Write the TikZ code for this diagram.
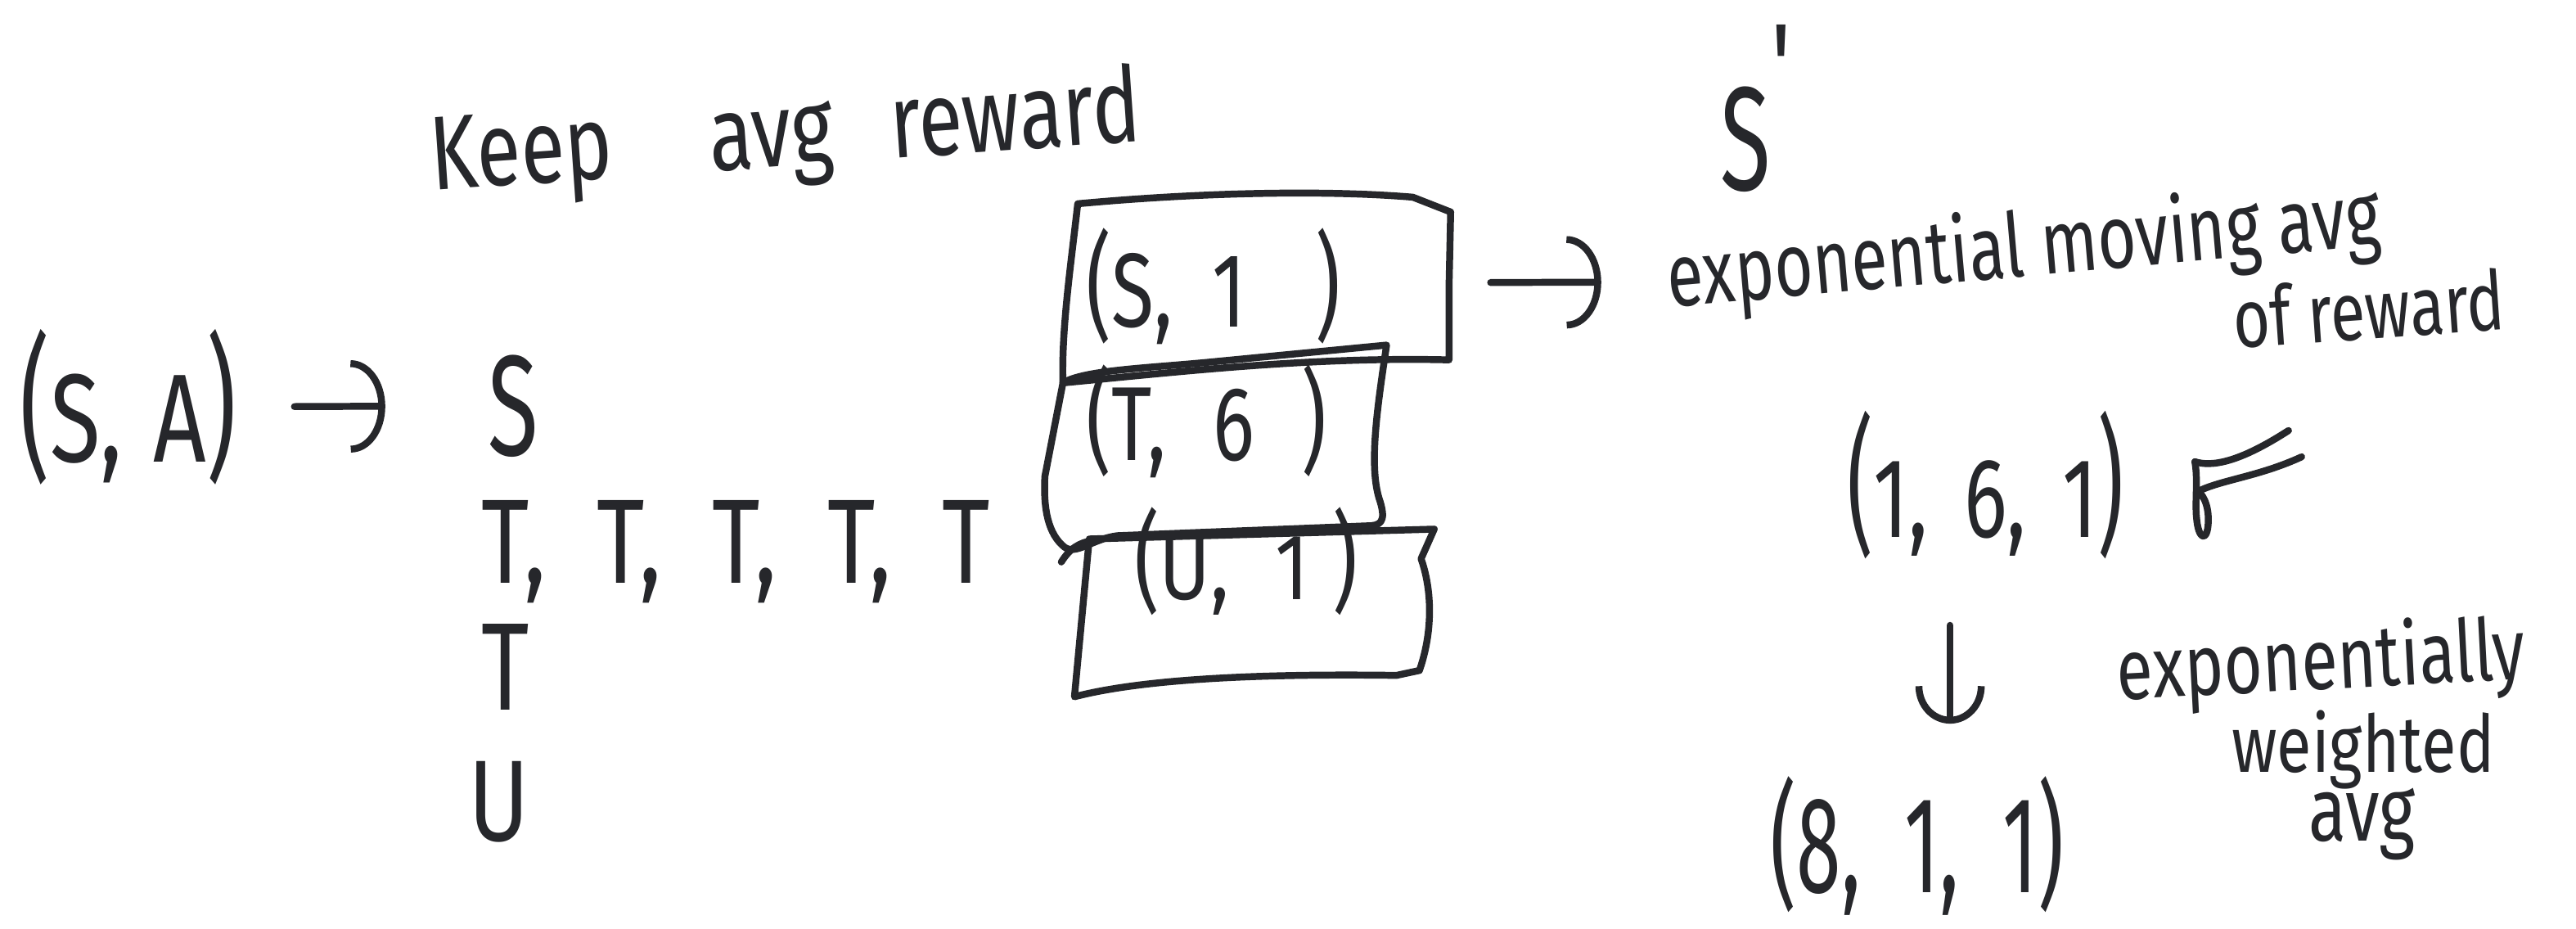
\documentclass[tikz,border=0pt]{standalone}
\usepackage{fontspec}
\setmainfont{Fira Sans}
\usepackage{graphicx}
\usetikzlibrary{arrows.meta}
\definecolor{ink}{HTML}{26272B}
% font size helper, vertical stretch, and tuples with tall brackets
\newcommand\hwsize[1]{\fontsize{#1}{#1}\selectfont}
\newcommand\tallt[2]{\scalebox{1}[#1]{#2}}
\newcommand\tup[3]{\tallt{#1}{(}\tallt{#2}{#3}\tallt{#1}{)}}
\tikzset{
  inkline/.style={draw=ink, line width=2.4pt, line cap=round, line join=round},
  hw/.style={text=ink, inner sep=0pt},
  arr/.style={inkline, -{Arc Barb[length=12pt,width=32pt]}},
  downarr/.style={inkline, -{Arc Barb[length=13pt,width=24pt]}},
  boxarea/.style={inner sep=0pt, minimum width=#1},
}
\begin{document}
\begin{tikzpicture}[x=0.02cm, y=-0.02cm]
\useasboundingbox (0,0) rectangle (1568,565);

% heading
\node[hw, font=\hwsize{28}, rotate=4, anchor=base west] (keep) at (263,116)
  {\tallt{1.3}{Keep\hspace{1.2em}avg\hspace{0.7em}reward}};

% left column: state-action pair and the states seen
\node[hw, font=\hwsize{32}, anchor=base west] (sa) at (12,281)
  {\tup{1.7}{1.36}{S,\,\,A}};
\node[hw, font=\hwsize{32}, anchor=base west] (S) at (297,277) {\tallt{1.55}{S}};
\node[hw, font=\hwsize{32}, anchor=base west] (tt) at (293,355)
  {\tallt{1.3}{T,\hspace{0.55em}T,\hspace{0.55em}T,\hspace{0.55em}T,\hspace{0.55em}T}};
\node[hw, font=\hwsize{32}, anchor=base west] (T) at (293,432) {\tallt{1.35}{T}};
\node[hw, font=\hwsize{32}, anchor=base west] (U) at (285,512) {\tallt{1.25}{U}};
\draw[arr, shorten <=0.7cm, shorten >=1.25cm] (sa.east) -- (S.west);

% stacked count boxes
\draw[inkline] (656,124) .. controls (720,118) and (800,115) .. (860,120) -- (883,129)
  -- (882,175) -- (882,219) .. controls (800,217) and (720,226) .. (647,233)
  .. controls (646,200) and (652,160) .. cycle;
\draw[inkline] (647,233) .. controls (660,225) and (700,224) .. (740,220) -- (844,210)
  .. controls (838,250) and (833,285) .. (840,305) .. controls (844,318) and (840,320) .. (832,320)
  -- (680,326) .. controls (665,328) and (655,338) .. (648,333)
  .. controls (638,325) and (635,310) .. (636,290) -- cycle;
\draw[inkline] (663,328) -- (873,322) -- (865,340) .. controls (872,360) and (872,385) .. (864,408)
  -- (850,411) .. controls (780,410) and (700,412) .. (654,424) -- cycle;
\draw[inkline] (646,342) .. controls (651,334) and (657,330) .. (665,329);

\node[boxarea=4.56cm, minimum height=2cm] (box1) at (769,172) {};
\node[hw, font=\hwsize{27}, anchor=base west] (s1) at (661,199)
  {\tup{1.5}{1.35}{S,\hspace{0.5em}1\hspace{0.9em}}};
\node[hw, font=\hwsize{27}, anchor=base west] (t6) at (661,280)
  {\tup{1.45}{1.35}{T,\hspace{0.6em}6\hspace{0.6em}}};
\node[hw, font=\hwsize{27}, anchor=base west] (u1) at (690,365)
  {\tup{1.4}{1.2}{U,\hspace{0.6em}1\hspace{0.3em}}};

% right side notes
\node[hw, font=\hwsize{32}, anchor=base west] (sp) at (1047,116)
  {\tallt{1.6}{S}\raisebox{0.9em}{\tallt{1.3}{\textquotesingle}}};
\node[hw, font=\hwsize{23}, rotate=5, anchor=base west] (exp) at (1016,187)
  {\tallt{1.35}{exponential moving avg}};
\node[hw, font=\hwsize{22}, rotate=4, anchor=base west] (ofr) at (1360,212)
  {\tallt{1.3}{of reward}};
\draw[arr, shorten <=0.48cm, shorten >=0.8cm] (box1.east) -- (exp.west);

% running averages
\node[hw, font=\hwsize{28}, anchor=base west] (v1) at (1124,327)
  {\tup{1.85}{1.4}{1,\hspace{0.45em}6,\hspace{0.45em}1}};
\node[hw, font=\hwsize{28}] (v2) at (1167,515) {\tallt{1.7}{(8,\; 1,\; 1)}};
\draw[downarr, shorten <=0.8cm, shorten >=0.64cm]
  ([xshift=0.4cm]v2.north |- v1.south) -- ([xshift=0.4cm]v2.north);
\draw[inkline] (1336,281) .. controls (1346,284) and (1362,282) .. (1393,262);
\draw[inkline] (1338,299) .. controls (1352,292) and (1375,290) .. (1401,278);
\draw[inkline] (1336,281) .. controls (1338,292) and (1336,305) .. (1337,315)
  .. controls (1338,328) and (1343,330) .. (1344,320) .. controls (1345,310) and (1342,302) .. (1338,299);

\node[hw, font=\hwsize{23}, rotate=3, anchor=base west] (ew1) at (1289,426)
  {\tallt{1.3}{exponentially}};
\node[hw, font=\hwsize{22}, anchor=base west] (ew2) at (1358,470)
  {\tallt{1.25}{weighted}};
\node[hw, font=\hwsize{24}, anchor=base west] (ew3) at (1405,512)
  {\tallt{1.3}{avg}};
\end{tikzpicture}
\end{document}
